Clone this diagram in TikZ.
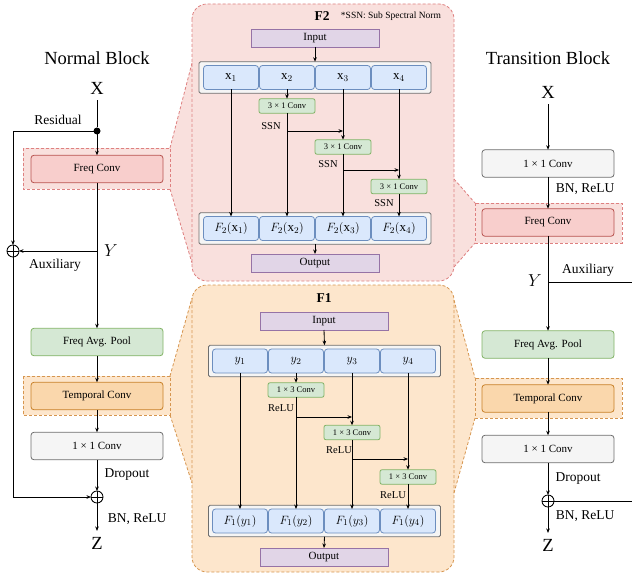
\documentclass[tikz,border=0pt]{standalone}
\usepackage{fontspec}
\setmainfont{Liberation Serif}
\usetikzlibrary{arrows.meta}
\definecolor{pinkfill}{RGB}{249,224,221}
\definecolor{pinkdash}{RGB}{222,128,128}
\definecolor{orfill}{RGB}{253,230,204}
\definecolor{ordash}{RGB}{214,150,80}
\definecolor{redfill}{RGB}{248,206,204}
\definecolor{reddraw}{RGB}{184,84,80}
\definecolor{orboxfill}{RGB}{250,215,172}
\definecolor{orboxdraw}{RGB}{200,128,40}
\definecolor{greenfill}{RGB}{213,232,212}
\definecolor{greendraw}{RGB}{130,179,102}
\definecolor{grayfill}{RGB}{245,245,245}
\definecolor{graydraw}{RGB}{110,110,110}
\definecolor{purpfill}{RGB}{225,213,231}
\definecolor{purpdraw}{RGB}{150,115,166}
\definecolor{bluefill}{RGB}{218,232,252}
\definecolor{bluedraw}{RGB}{108,142,191}
\begin{document}
\begin{tikzpicture}[x=1pt,y=-1pt,
  every node/.style={inner sep=0pt, outer sep=0pt},
  ln/.style={line width=0.85pt, black},
  arr/.style={ln, -{Stealth[length=4.5pt,width=3.6pt]}},
  blk/.style={rounded corners=3pt, line width=0.8pt, minimum width=132pt, minimum height=27.5pt, font=\fontsize{11}{13}\selectfont},
  redblk/.style={blk, fill=redfill, draw=reddraw},
  orblk/.style={blk, fill=orboxfill, draw=orboxdraw},
  greenblk/.style={blk, fill=greenfill, draw=greendraw},
  grayblk/.style={blk, fill=grayfill, draw=graydraw},
  title/.style={font=\fontsize{18.5}{22}\selectfont},
  bigletter/.style={font=\fontsize{18.5}{22}\selectfont, inner sep=6pt},
  lbl/.style={font=\fontsize{13.5}{16}\selectfont},
  smlbl/.style={font=\fontsize{10.5}{12}\selectfont},
  plus/.style={circle, draw, line width=0.85pt, minimum size=12pt, fill=white},
  pinkdashed/.style={draw=pinkdash, line width=0.8pt, dash pattern=on 3pt off 2pt},
  ordashed/.style={draw=ordash, line width=0.8pt, dash pattern=on 3pt off 2pt},
  cont/.style={rounded corners=1.5pt, fill=grayfill, draw=graydraw, line width=0.8pt, minimum width=232pt, minimum height=31.5pt},
  cell/.style={rounded corners=3pt, fill=bluefill, draw=bluedraw, line width=0.8pt, minimum width=55pt, minimum height=24pt, font=\fontsize{13}{15}\selectfont},
  sconv/.style={rounded corners=2pt, fill=greenfill, draw=greendraw, line width=0.8pt, minimum width=56pt, minimum height=14.5pt, font=\fontsize{8.5}{10}\selectfont},
  io/.style={fill=purpfill, draw=purpdraw, line width=0.8pt, minimum width=128pt, minimum height=18pt, font=\fontsize{11}{13}\selectfont}
]
\useasboundingbox (0,0) rectangle (632,575);

% ---------- background panels and funnels ----------
\fill[pinkfill] (170,148) -- (192,63) -- (192,263) -- (170,189) -- cycle;
\fill[pinkfill] (454,179) -- (475,203) -- (475,243) -- (454,267) -- cycle;
\fill[orfill] (170,376) -- (192,298) -- (192,483) -- (170,415) -- cycle;
\fill[orfill] (454,300) -- (475,378) -- (475,418) -- (454,493) -- cycle;
\draw[pinkdashed, fill=pinkfill, rounded corners=15pt] (192,4) rectangle (454,281);
\draw[ordashed, fill=orfill, rounded corners=15pt] (192,285) rectangle (454,572);
\draw[pinkdashed, fill=pinkfill] (23,148) rectangle (170,189);
\draw[pinkdashed, fill=pinkfill] (475,203) rectangle (622,243);
\draw[ordashed, fill=orfill] (23,376) rectangle (170,415);
\draw[ordashed, fill=orfill] (475,378) rectangle (622,418);
\draw[pinkdashed] (170,148) -- (192,63) (170,189) -- (192,263);
\draw[pinkdashed] (454,179) -- (475,203) (454,267) -- (475,243);
\draw[ordashed] (170,376) -- (192,298) (170,415) -- (192,483);
\draw[ordashed] (454,300) -- (475,378) (454,493) -- (475,418);

% ---------- Normal Block ----------
\node[title] (ntitle) at (97,58) {Normal Block};
\node[bigletter] (nX) at (97,88) {X};
\node[circle, fill=black, minimum size=7pt] (ndot) at (97,131) {};
\node[lbl] (nres) at (58,120) {Residual};
\node[redblk] (nfc) at (97,169) {Freq Conv};
\node[plus] (np1) at (13,251) {};
\draw[ln] (np1.north) -- (np1.south) (np1.west) -- (np1.east);
\coordinate (nyj) at (97,251);
\node[font=\fontsize{18}{20}\selectfont] (nY) at (111,251) {$Y$};
\node[lbl] (naux) at (55,265) {Auxiliary};
\node[greenblk] (npool) at (97,342) {Freq Avg. Pool};
\node[orblk] (ntc) at (97,396) {Temporal Conv};
\node[grayblk] (n11) at (97,446) {1 × 1 Conv};
\node[lbl] (ndrop) at (127,475) {Dropout};
\node[plus] (np2) at (97,497) {};
\draw[ln] (np2.north) -- (np2.south) (np2.west) -- (np2.east);
\node[lbl] (nbn) at (137,519) {BN, ReLU};
\node[bigletter] (nZ) at (97,543) {Z};

\draw[ln] (nX.south) -- (ndot);
\draw[arr] (ndot) -- (nfc.north);
\draw[arr] (ndot) -| (np1.north);
\draw[arr] (nfc.south) -- (npool.north);
\draw[arr] (nyj) -- (np1.east);
\draw[arr] (npool.south) -- (ntc.north);
\draw[arr] (ntc.south) -- (n11.north);
\draw[arr] (n11.south) -- (np2.north);
\draw[arr] (np1.south) |- (np2.west);
\draw[arr] (np2.south) -- (nZ.north);

% ---------- Transition Block ----------
\node[title] (ttitle) at (548,58) {Transition Block};
\node[bigletter] (tX) at (548,92) {X};
\node[grayblk] (t1) at (548,163.5) {1 × 1 Conv};
\node[lbl] (tbn1) at (585,189) {BN, ReLU};
\node[redblk] (tfc) at (548,222.5) {Freq Conv};
\coordinate (tyj) at (548,282);
\coordinate (tauxend) at (632,282);
\node[font=\fontsize{18}{20}\selectfont] (tY) at (535,281) {$Y$};
\node[lbl] (taux) at (588,270) {Auxiliary};
\node[greenblk] (tpool) at (548,344.5) {Freq Avg. Pool};
\node[orblk] (ttc) at (548,398.5) {Temporal Conv};
\node[grayblk] (t11) at (548,449) {1 × 1 Conv};
\node[lbl] (tdrop) at (578,479) {Dropout};
\node[plus] (tp) at (548,501) {};
\draw[ln] (tp.north) -- (tp.south) (tp.west) -- (tp.east);
\coordinate (tresend) at (632,501);
\node[lbl] (tbn2) at (585,516) {BN, ReLU};
\node[bigletter] (tZ) at (548,545) {Z};

\draw[arr] (tX.south) -- (t1.north);
\draw[arr] (t1.south) -- (tfc.north);
\draw[arr] (tfc.south) -- (tpool.north);
\draw[ln] (tyj) -- (tauxend);
\draw[arr] (tpool.south) -- (ttc.north);
\draw[arr] (ttc.south) -- (t11.north);
\draw[arr] (t11.south) -- (tp.north);
\draw[ln] (tp.east) -- (tresend);
\draw[arr] (tp.south) -- (tZ.north);

% ---------- F2 panel ----------
\node[font=\bfseries\fontsize{13.5}{15}\selectfont] (f2t) at (322,16) {F2};
\node[font=\fontsize{9.5}{11}\selectfont] (f2note) at (391,16) {*SSN: Sub Spectral Norm};
\node[io] (f2in) at (315,38) {Input};
\node[cont] (f2a) at (315,77.5) {};
\node[cell] (x1) at (231,77.5) {$\mathrm{x}_1$};
\node[cell] (x2) at (287,77.5) {$\mathrm{x}_2$};
\node[cell] (x3) at (343,77.5) {$\mathrm{x}_3$};
\node[cell] (x4) at (399,77.5) {$\mathrm{x}_4$};
\node[sconv] (c21) at (287,106) {3 × 1 Conv};
\node[sconv] (c22) at (343,147) {3 × 1 Conv};
\node[sconv] (c23) at (399,186.5) {3 × 1 Conv};
\node[smlbl] (ssn1) at (271,126) {SSN};
\node[smlbl] (ssn2) at (328,164) {SSN};
\node[smlbl] (ssn3) at (384,203) {SSN};
\coordinate (b21) at (287,131);
\coordinate (b22) at (343,170);
\node[cont] (f2b) at (315,228.5) {};
\node[cell] (fx1) at (231,228.5) {$F_2(\mathrm{x}_1)$};
\node[cell] (fx2) at (287,228.5) {$F_2(\mathrm{x}_2)$};
\node[cell] (fx3) at (343,228.5) {$F_2(\mathrm{x}_3)$};
\node[cell] (fx4) at (399,228.5) {$F_2(\mathrm{x}_4)$};
\node[io] (f2out) at (315,263) {Output};

\draw[arr] (f2in.south) -- (f2a.north);
\draw[arr] (x1.south) -- (fx1.north);
\draw[arr] (x2.south) -- (c21.north);
\draw[arr] (c21.south) -- (fx2.north);
\draw[arr] (b21) -- (x3.south |- b21);
\draw[arr] (x3.south) -- (c22.north);
\draw[arr] (c22.south) -- (fx3.north);
\draw[arr] (b22) -- (x4.south |- b22);
\draw[arr] (x4.south) -- (c23.north);
\draw[arr] (c23.south) -- (fx4.north);
\draw[arr] (f2b.south) -- (f2out.north);

% ---------- F1 panel ----------
\node[font=\bfseries\fontsize{13.5}{15}\selectfont] (f1t) at (324,298) {F1};
\node[io] (f1in) at (324,321) {Input};
\node[cont] (f1a) at (324.5,361) {};
\node[cell] (y1) at (240,361) {$y_1$};
\node[cell] (y2) at (296,361) {$y_2$};
\node[cell] (y3) at (352,361) {$y_3$};
\node[cell] (y4) at (408,361) {$y_4$};
\node[sconv] (c11) at (296,390) {1 × 3 Conv};
\node[sconv] (c12) at (352,432.5) {1 × 3 Conv};
\node[sconv] (c13) at (408,477) {1 × 3 Conv};
\node[smlbl] (relu1) at (281,408) {ReLU};
\node[smlbl] (relu2) at (339,450) {ReLU};
\node[smlbl] (relu3) at (393,495) {ReLU};
\coordinate (b11) at (296,417);
\coordinate (b12) at (352,459);
\node[cont] (f1b) at (324.5,521) {};
\node[cell] (fy1) at (240,521) {$F_1(y_1)$};
\node[cell] (fy2) at (296,521) {$F_1(y_2)$};
\node[cell] (fy3) at (352,521) {$F_1(y_3)$};
\node[cell] (fy4) at (408,521) {$F_1(y_4)$};
\node[io] (f1out) at (324,557) {Output};

\draw[arr] (f1in.south) -- (f1a.north);
\draw[arr] (y1.south) -- (fy1.north);
\draw[arr] (y2.south) -- (c11.north);
\draw[arr] (c11.south) -- (fy2.north);
\draw[arr] (b11) -- (y3.south |- b11);
\draw[arr] (y3.south) -- (c12.north);
\draw[arr] (c12.south) -- (fy3.north);
\draw[arr] (b12) -- (y4.south |- b12);
\draw[arr] (y4.south) -- (c13.north);
\draw[arr] (c13.south) -- (fy4.north);
\draw[arr] (f1b.south) -- (f1out.north);
\end{tikzpicture}
\end{document}
